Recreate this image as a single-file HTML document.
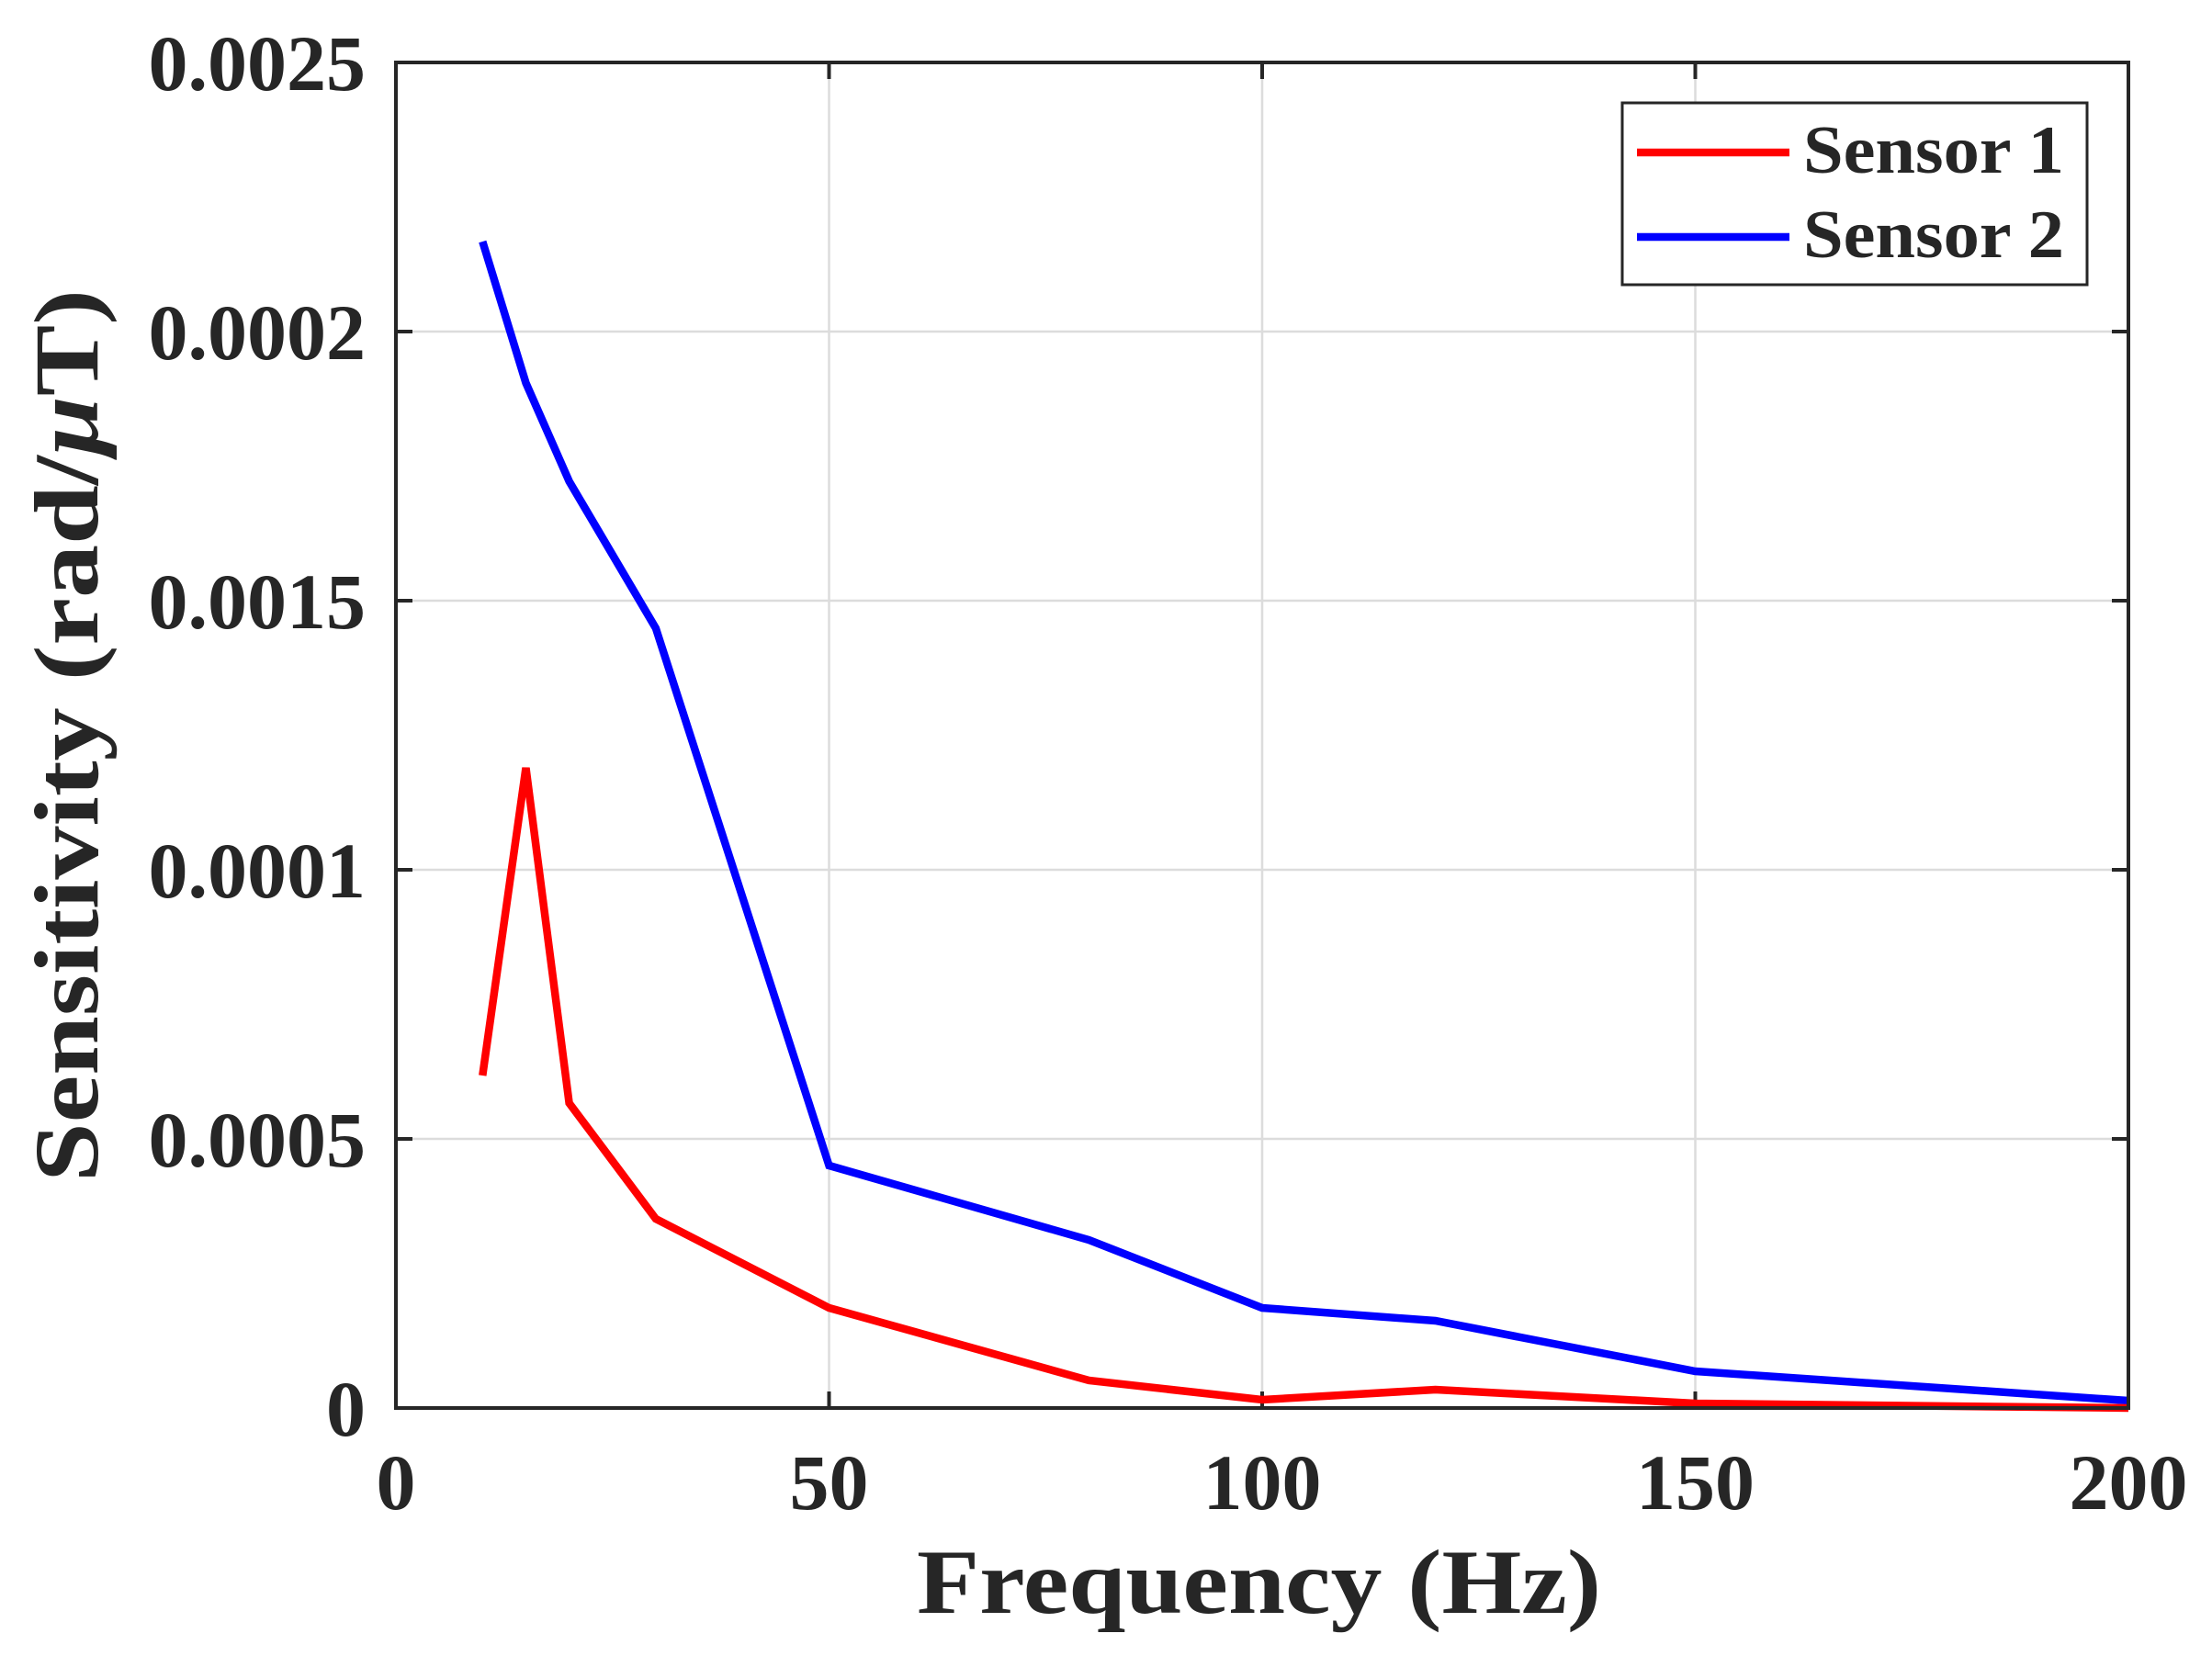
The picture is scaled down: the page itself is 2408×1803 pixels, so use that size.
<!DOCTYPE html>
<html><head><style>html,body{margin:0;padding:0;background:#fff}</style></head><body>
<svg width="2408" height="1798" xmlns="http://www.w3.org/2000/svg" font-family="Liberation Serif, serif" font-weight="bold" fill="#262626">
<rect width="2408" height="1798" fill="#fff"/>
<g stroke="#dcdcdc" stroke-width="2.5">
<line x1="902.5" y1="68" x2="902.5" y2="1533"/><line x1="1374" y1="68" x2="1374" y2="1533"/><line x1="1845.5" y1="68" x2="1845.5" y2="1533"/>
<line x1="431" y1="1240" x2="2317" y2="1240"/><line x1="431" y1="947" x2="2317" y2="947"/><line x1="431" y1="654" x2="2317" y2="654"/><line x1="431" y1="361" x2="2317" y2="361"/>
</g>
<g stroke="#262626" stroke-width="4">
<line x1="902.5" y1="1533" x2="902.5" y2="1515"/><line x1="1374" y1="1533" x2="1374" y2="1515"/><line x1="1845.5" y1="1533" x2="1845.5" y2="1515"/>
<line x1="902.5" y1="68" x2="902.5" y2="86"/><line x1="1374" y1="68" x2="1374" y2="86"/><line x1="1845.5" y1="68" x2="1845.5" y2="86"/>
<line x1="431" y1="1240" x2="449" y2="1240"/><line x1="431" y1="947" x2="449" y2="947"/><line x1="431" y1="654" x2="449" y2="654"/><line x1="431" y1="361" x2="449" y2="361"/>
<line x1="2317" y1="1240" x2="2299" y2="1240"/><line x1="2317" y1="947" x2="2299" y2="947"/><line x1="2317" y1="654" x2="2299" y2="654"/><line x1="2317" y1="361" x2="2299" y2="361"/>
</g>
<polyline fill="none" stroke="#0000ff" stroke-width="8.5" points="525.3,263 572.5,417 619.6,524 713.9,684 902.5,1269 1185.4,1350 1374,1424 1562.6,1438 1845.5,1493 2317,1525"/>
<polyline fill="none" stroke="#ff0000" stroke-width="8.5" points="525.3,1171 572.5,836 619.6,1201 713.9,1327 902.5,1424 1185.4,1503 1374,1524 1562.6,1513 1845.5,1528 2317,1533"/>
<rect x="431" y="68" width="1886" height="1465" fill="none" stroke="#262626" stroke-width="4"/>
<g font-size="86" text-anchor="middle">
<text x="431" y="1643">0</text><text x="902.5" y="1643">50</text><text x="1374" y="1643">100</text><text x="1845.5" y="1643">150</text><text x="2317" y="1643">200</text>
</g>
<g font-size="86" text-anchor="end">
<text x="398" y="1563">0</text><text x="398" y="1270">0.0005</text><text x="398" y="977">0.0001</text><text x="398" y="684">0.0015</text><text x="398" y="391">0.0002</text><text x="398" y="98">0.0025</text>
</g>
<text x="998" y="1756" font-size="100" textLength="745" lengthAdjust="spacingAndGlyphs">Frequency (Hz)</text>
<text transform="translate(106,1287) rotate(-90)" font-size="100" textLength="972" lengthAdjust="spacingAndGlyphs">Sensitivity (rad/<tspan font-style="italic">μ</tspan>T)</text>
<rect x="1766" y="112" width="506" height="198" fill="#fff" stroke="#262626" stroke-width="3"/>
<line x1="1782" y1="166" x2="1948" y2="166" stroke="#ff0000" stroke-width="8.5"/>
<line x1="1782" y1="258" x2="1948" y2="258" stroke="#0000ff" stroke-width="8.5"/>
<text x="1963" y="188" font-size="74" textLength="284" lengthAdjust="spacingAndGlyphs">Sensor 1</text>
<text x="1963" y="280" font-size="74" textLength="284" lengthAdjust="spacingAndGlyphs">Sensor 2</text>
</svg>
</body></html>
